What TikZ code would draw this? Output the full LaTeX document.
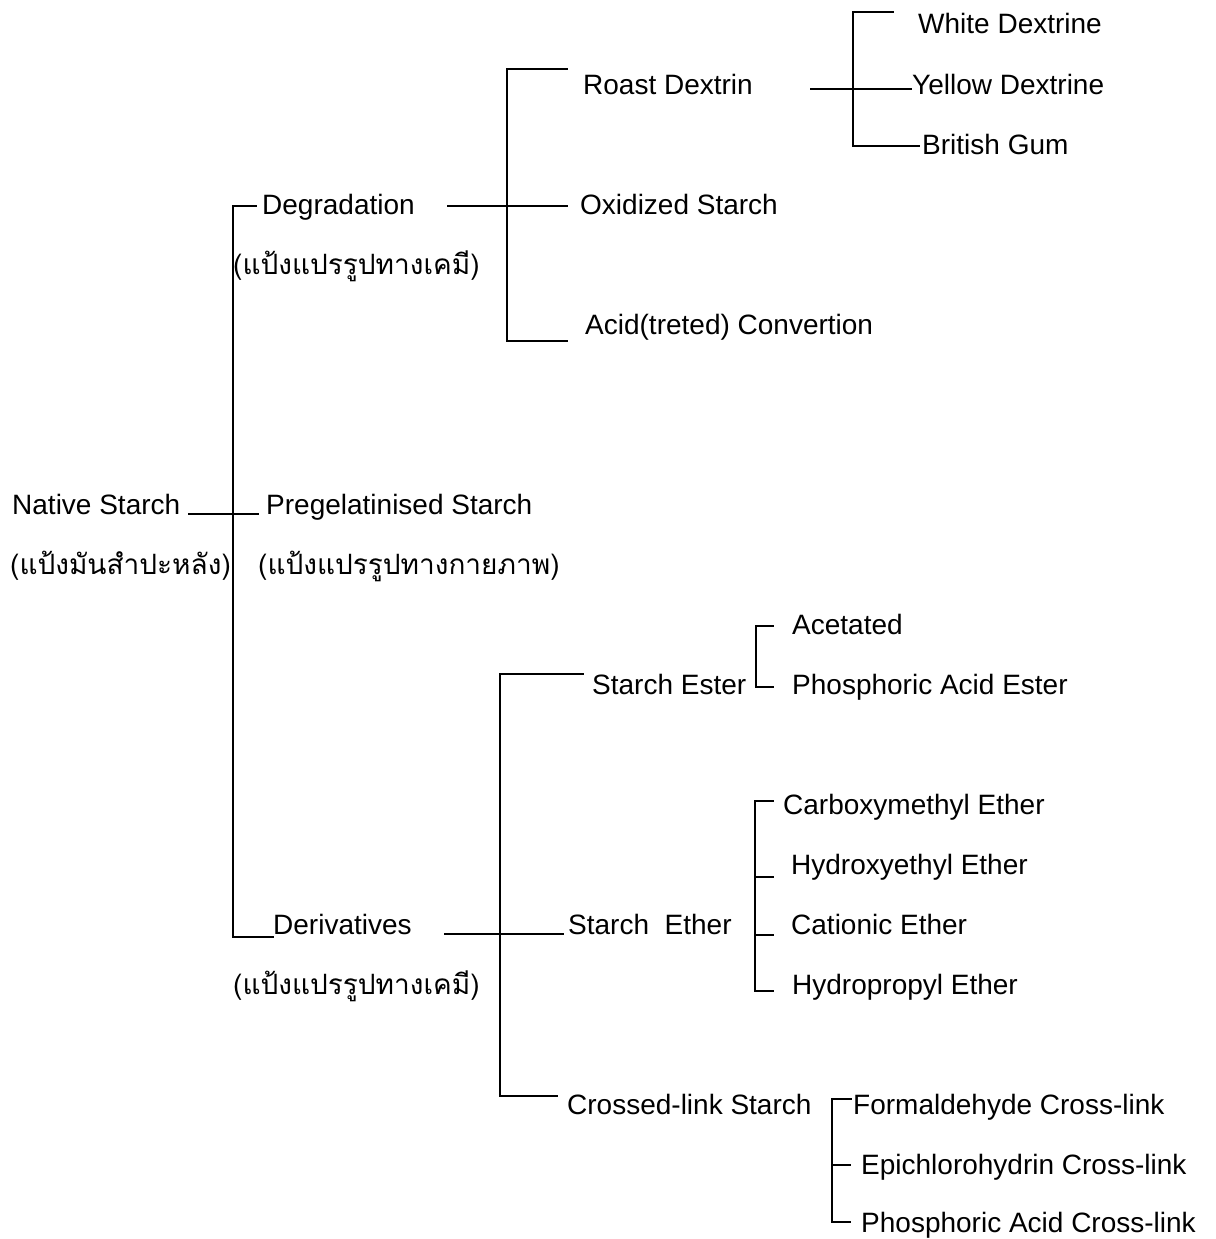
\documentclass[tikz,border=0pt]{standalone}
\usepackage{fontspec}
\setmainfont{Liberation Sans}
\newfontfamily\thaifont[Script=Thai]{Loma}
\begin{document}
\begin{tikzpicture}[x=1pt,y=-1pt,
  lbl/.style={anchor=base west, inner sep=0pt, font=\fontsize{28}{30}\selectfont},
  th/.style={anchor=base west, inner sep=0pt, font=\fontsize{28}{30}\selectfont\thaifont},
  ln/.style={line width=2.4pt, line cap=rect}]
\useasboundingbox (0,0) rectangle (1215,1239);
% ---- text nodes ----
\node[lbl] (wd)  at (918,34)   {White Dextrine};
\node[lbl] (yd)  at (912,94)   {Yellow Dextrine};
\node[lbl] (bg)  at (922,154)  {British Gum};
\node[lbl] (rd)  at (583,94)   {Roast Dextrin};
\node[lbl] (ox)  at (580,214)  {Oxidized Starch};
\node[lbl] (ac)  at (585,334)  {Acid(treted) Convertion};
\node[lbl] (deg) at (262,214)  {Degradation};
\node[th]  (th1) at (233,274)  {(แป้งแปรรูปทางเคมี)};
\node[lbl] (ns)  at (12,514)   {Native Starch};
\node[th]  (th2) at (10,574)   {(แป้งมันสำปะหลัง)};
\node[lbl] (pre) at (266,514)  {Pregelatinised Starch};
\node[th]  (th3) at (258,574)  {(แป้งแปรรูปทางกายภาพ)};
\node[lbl] (acet) at (792,634) {Acetated};
\node[lbl] (se)  at (592,694)  {Starch Ester};
\node[lbl] (pae) at (792,694)  {Phosphoric Acid Ester};
\node[lbl] (cme) at (783,814)  {Carboxymethyl Ether};
\node[lbl] (hee) at (791,874)  {Hydroxyethyl Ether};
\node[lbl] (cat) at (791,934)  {Cationic Ether};
\node[lbl] (hpe) at (792,994)  {Hydropropyl Ether};
\node[lbl] (set) at (568,934)  {Starch\ \ Ether};
\node[lbl] (der) at (273,934)  {Derivatives};
\node[th]  (th4) at (233,994)  {(แป้งแปรรูปทางเคมี)};
\node[lbl] (cls) at (567,1114) {Crossed-link Starch};
\node[lbl] (fcl) at (853,1114) {Formaldehyde Cross-link};
\node[lbl] (ecl) at (861,1174) {Epichlorohydrin Cross-link};
\node[lbl] (pcl) at (861,1232) {Phosphoric Acid Cross-link};
% ---- junction coordinates ----
\coordinate (rootT) at (233,206);
\coordinate (rootB) at (233,937);
\coordinate (degT) at (507,69);
\coordinate (degB) at (507,341);
\coordinate (rdT) at (853,12);
\coordinate (rdB) at (853,146);
\coordinate (derT) at (500,674);
\coordinate (derB) at (500,1096);
\coordinate (seT) at (756,626);
\coordinate (seB) at (756,687);
\coordinate (etT) at (755,801);
\coordinate (etB) at (755,991);
\coordinate (clT) at (832,1099);
\coordinate (clB) at (832,1222);
% ---- root bracket ----
\draw[ln] (rootT) -- (rootB);
\draw[ln] (rootT) -- ([xshift=-6pt]deg.west |- rootT);
\draw[ln] (rootB) -- (rootB -| der.west);
\draw[ln] ([xshift=9pt]ns.base east) -- ([xshift=-8pt]pre.base west);
% ---- degradation bracket ----
\draw[ln] ([xshift=33pt]deg.east |- 0,206) -- (567,206);
\draw[ln] (degT) -- (degB);
\draw[ln] (degT) -- (567,69);
\draw[ln] (degB) -- (567,341);
% ---- roast dextrin bracket ----
\draw[ln] ([xshift=58pt]rd.east |- 0,89) -- ([xshift=-1pt]yd.west |- 0,89);
\draw[ln] (rdT) -- (rdB);
\draw[ln] (rdT) -- (893,12);
\draw[ln] (rdB) -- ([xshift=-3pt]bg.west |- rdB);
% ---- derivatives bracket ----
\draw[ln] ([xshift=33pt]der.base east) -- ([xshift=-5pt]set.base west);
\draw[ln] (derT) -- (derB);
\draw[ln] (derT) -- (583,674);
\draw[ln] (derB) -- (557,1096);
% ---- starch ester bracket ----
\draw[ln] (seT) -- (seB);
\draw[ln] (seT) -- ++(17,0);
\draw[ln] (seB) -- ++(17,0);
% ---- starch ether bracket ----
\draw[ln] (etT) -- (etB);
\draw[ln] (etT) -- ++(18,0);
\draw[ln] (755,877) -- ++(18,0);
\draw[ln] (755,935) -- ++(18,0);
\draw[ln] (etB) -- ++(18,0);
% ---- cross-link bracket ----
\draw[ln] (clT) -- (clB);
\draw[ln] (clT) -- ([xshift=-2pt]fcl.west |- clT);
\draw[ln] (832,1165) -- ++(18,0);
\draw[ln] (clB) -- ++(18,0);
\end{tikzpicture}
\end{document}
